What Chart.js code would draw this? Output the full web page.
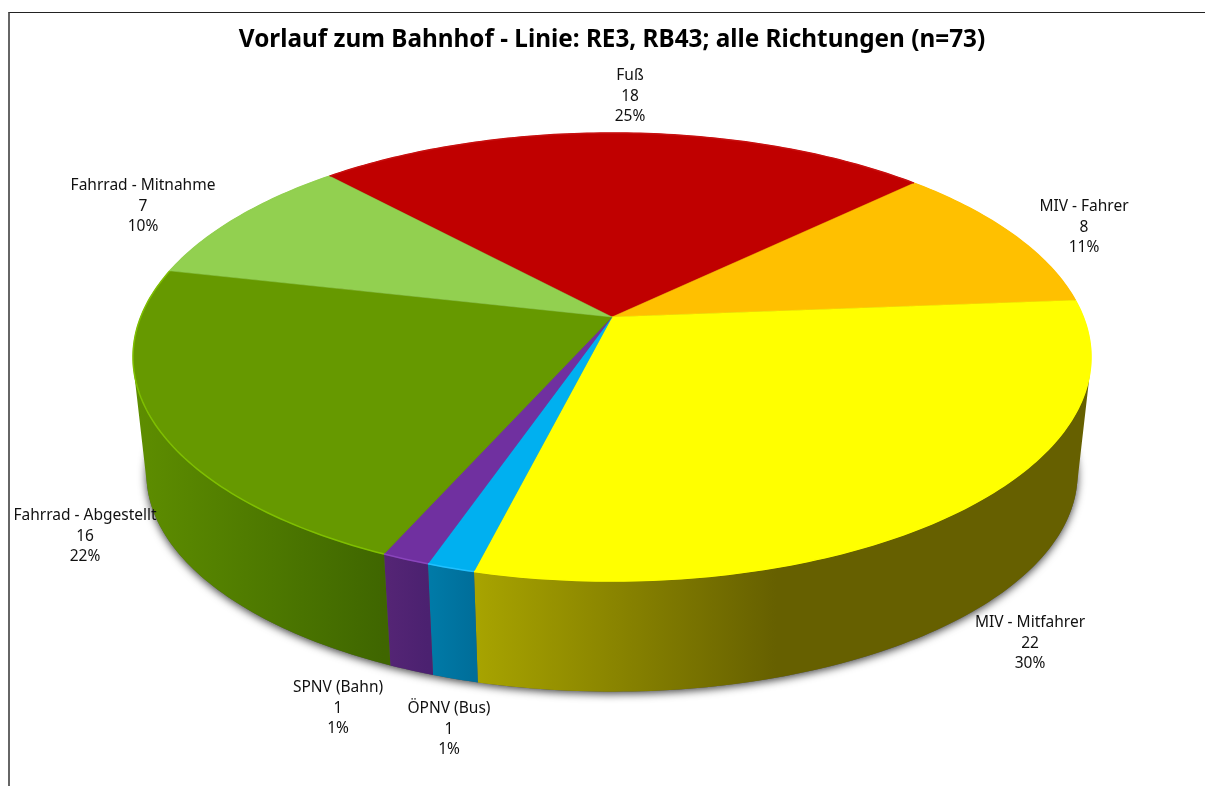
<!DOCTYPE html>
<html>
<head>
<meta charset="utf-8">
<title>Vorlauf zum Bahnhof</title>
<script src="https://cdn.jsdelivr.net/npm/chart.js@4"></script>
<style>
    html, body { margin: 0; padding: 0; background: #fff; overflow: hidden; }
    #frame { position: absolute; left: 8px; top: 12px; right: 0; bottom: 0; border-top: 1.5px solid #222; border-left: 2px solid #666; }
    canvas { position: absolute; left: 0; top: 0; }
</style>
</head>
<body>
<canvas id="pieChart" width="1205" height="786"></canvas>
<div id="frame"></div>
<script>
// Data
const categories = ["Fuß", "MIV - Fahrer", "MIV - Mitfahrer", "ÖPNV (Bus)", "SPNV (Bahn)", "Fahrrad - Abgestellt", "Fahrrad - Mitnahme"];
const counts = [18, 8, 22, 1, 1, 16, 7];
const percents = ["25%", "11%", "30%", "1%", "1%", "22%", "10%"];
const chartTitle = "Vorlauf zum Bahnhof - Linie: RE3, RB43; alle Richtungen (n=73)";

// Styles
const topColors = ["#C00000", "#FFC000", "#FFFF00", "#00B0F0", "#7030A0", "#669900", "#92D050"];
const bevelColors = ["#C81010", "#FFC000", "#FFFF00", "#20C0FF", "#8A45BC", "#7FBF00", "#92D050"];
const wallColors = [
    ["#600000", "#600000"], ["#806000", "#806000"], ["#A8A400", "#666000"], ["#007BA8", "#006E9A"],
    ["#552575", "#4B2170"], ["#5E8E00", "#3F6600"], ["#4A6828", "#4A6828"]
];
// label centre x, first line y
const labelSpots = [[630, 76], [1084, 207], [1030, 623], [449, 709], [338, 688], [85, 516], [143, 186]];
const labelLineHeight = 20.5;

// Perspective of the tilted disc, in pixels from the pie centre
const spreadX = 471.3, spreadY = 216.9, perspective = 0.1786;
const wallDrop = 118, bottomShrink = 0.972;

function rimPoint(arc, angle, isBottom) {
    const u = Math.cos(angle), v = -Math.sin(angle);
    const d = 1 + perspective * v;
    const k = isBottom ? bottomShrink : 1;
    return {
        x: arc.x + k * spreadX * u / d,
        y: arc.y + (isBottom ? wallDrop : 0) - k * spreadY * v / d
    };
}

function traceRim(ctx, arc, from, to, joined, isBottom) {
    const steps = Math.max(4, Math.ceil(Math.abs(to - from) * 60));
    for (let i = 0; i <= steps; i++) {
        const p = rimPoint(arc, from + (to - from) * i / steps, isBottom);
        if (i === 0 && !joined) ctx.moveTo(p.x, p.y);
        else ctx.lineTo(p.x, p.y);
    }
}

// wall as small quads, all wound the same way so that they merge into one shape
function traceWall(ctx, arc, from, to) {
    const steps = Math.max(4, Math.ceil(Math.abs(to - from) * 60));
    for (let i = 0; i < steps; i++) {
        const a = from + (to - from) * i / steps;
        const b = from + (to - from) * (i + 1) / steps;
        let q = [rimPoint(arc, a, false), rimPoint(arc, b, false), rimPoint(arc, b, true), rimPoint(arc, a, true)];
        let area = 0;
        q.forEach((p, n) => {
            const r = q[(n + 1) % 4];
            area += p.x * r.y - r.x * p.y;
        });
        if (area < 0) q = q.reverse();
        ctx.moveTo(q[0].x, q[0].y);
        for (let n = 1; n < 4; n++) ctx.lineTo(q[n].x, q[n].y);
        ctx.closePath();
    }
}

const tiltedPie = {
    id: "tiltedPie",
    beforeDatasetsDraw(chart) {
        const ctx = chart.ctx;
        const arcs = chart.getDatasetMeta(0).data;

        // soft shadow under the body, cast by the bottom disc
        ctx.save();
        ctx.shadowColor = "rgba(0,0,0,0.75)";
        ctx.shadowBlur = 9;
        ctx.shadowOffsetY = 2;
        ctx.fillStyle = "#555";
        ctx.beginPath();
        traceRim(ctx, arcs[0], 0, Math.PI * 2, false, true);
        ctx.closePath();
        ctx.fill();
        ctx.restore();

        // walls
        arcs.forEach((arc, i) => {
            let xs = [];
            for (let t = 0; t <= 20; t++) xs.push(rimPoint(arc, arc.startAngle + (arc.endAngle - arc.startAngle) * t / 20, false).x);
            const grad = ctx.createLinearGradient(Math.min(...xs), 0, Math.max(...xs), 0);
            grad.addColorStop(0, wallColors[i][0]);
            if (i === 2) {
                // yellow wall is dark from about the middle of the front on
                grad.addColorStop(0.49, wallColors[i][1]);
            }
            grad.addColorStop(1, wallColors[i][1]);
            ctx.fillStyle = grad;
            ctx.beginPath();
            traceWall(ctx, arc, arc.startAngle, arc.endAngle);
            ctx.fill();
        });

        // top faces
        arcs.forEach((arc, i) => {
            ctx.fillStyle = topColors[i];
            ctx.strokeStyle = topColors[i];
            ctx.lineWidth = 0.5;
            ctx.beginPath();
            ctx.moveTo(arc.x, arc.y);
            traceRim(ctx, arc, arc.startAngle, arc.endAngle, true, false);
            ctx.closePath();
            ctx.fill();
            ctx.stroke();
        });

        // light bevel along the rim
        arcs.forEach((arc, i) => {
            ctx.strokeStyle = bevelColors[i];
            ctx.lineWidth = 1.5;
            ctx.beginPath();
            traceRim(ctx, arc, arc.startAngle, arc.endAngle, false, false);
            ctx.stroke();
        });
        return false;
    },
    afterDraw(chart) {
        const ctx = chart.ctx;
        ctx.save();
        ctx.font = "15.5px 'Noto Sans'";
        ctx.fillStyle = "#111";
        ctx.textAlign = "center";
        ctx.textBaseline = "middle";
        categories.forEach((name, i) => {
            const [x, y] = labelSpots[i];
            ctx.fillText(name, x, y);
            ctx.fillText(String(counts[i]), x, y + labelLineHeight);
            ctx.fillText(percents[i], x, y + labelLineHeight * 2);
        });
        ctx.restore();
    }
};

new Chart(document.getElementById("pieChart").getContext("2d"), {
    type: "pie",
    data: {
        labels: categories,
        datasets: [{ data: counts, backgroundColor: topColors, borderWidth: 0 }]
    },
    options: {
        responsive: false,
        animation: false,
        rotation: -42.7,
        layout: { padding: { left: 19, top: 0, right: 0, bottom: 219.4 } },
        plugins: {
            legend: { display: false },
            tooltip: { enabled: false },
            title: {
                display: true,
                text: chartTitle,
                color: "#000",
                font: { family: "'Noto Sans'", size: 24.3, weight: "bold", lineHeight: 1.1 },
                padding: { top: 27, bottom: 13.67 }
            }
        }
    },
    plugins: [tiltedPie]
});
</script>
</body>
</html>
